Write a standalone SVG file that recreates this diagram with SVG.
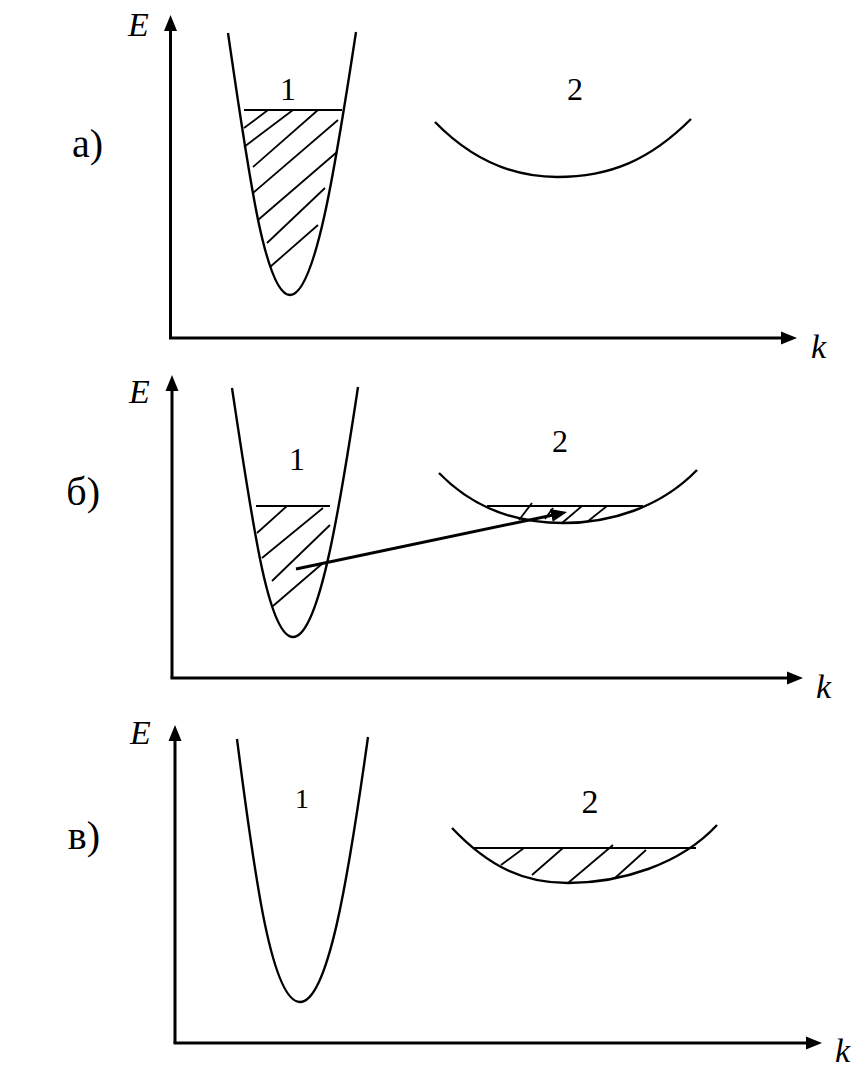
<svg xmlns="http://www.w3.org/2000/svg" width="864" height="1067" viewBox="0 0 864 1067">
<defs>
<marker id="ah" markerUnits="userSpaceOnUse" markerWidth="17" markerHeight="14" refX="8" refY="7" orient="auto">
<path d="M0,0.5 L16,7 L0,13.5 Z" fill="#000"/>
</marker>
<style>
.ax{stroke:#000;stroke-width:3;fill:none;marker-end:url(#ah)}
.cv{stroke:#000;stroke-width:2.4;fill:none}
.fl{stroke:#000;stroke-width:2.2}
.ht{stroke:#000;stroke-width:1.8}
.ar{stroke:#000;stroke-width:3;marker-end:url(#ah)}
.lbl{font-family:"Liberation Serif","Times New Roman",serif;font-size:40px;fill:#000;text-anchor:end}
.var{font-family:"Liberation Serif","Times New Roman",serif;font-style:italic;font-size:34px;fill:#000}
.kv{font-family:"Liberation Serif","Times New Roman",serif;font-style:italic;font-size:34px;fill:#000}
.n1{font-family:"Liberation Serif","Times New Roman",serif;font-size:32px;fill:#000;text-anchor:middle}
.n2{font-family:"Liberation Serif","Times New Roman",serif;font-size:32px;fill:#000;text-anchor:middle}
</style>
</defs>
<rect width="864" height="1067" fill="#fff"/>

<!-- Panel a -->
<g id="panel-a">
<text class="lbl" x="103" y="157">а)</text>
<g id="axes-a">
<line class="ax" x1="170.5" y1="338" x2="170.5" y2="23"/>
<line class="ax" x1="169" y1="338" x2="789" y2="338"/>
<text class="var" x="128" y="36">E</text>
<text class="kv" x="811" y="358">k</text>
</g>
<g id="band1-a">
<path class="cv" d="M228,33 C248,170 265,295 290,295 C315,295 335,170 356,32"/>
<line class="fl" x1="244" y1="110" x2="342" y2="110"/>
<line class="ht" x1="244" y1="128" x2="268" y2="110"/>
<line class="ht" x1="244" y1="147" x2="293" y2="110"/>
<line class="ht" x1="253" y1="167" x2="318" y2="110"/>
<line class="ht" x1="253" y1="193" x2="338" y2="120"/>
<line class="ht" x1="258" y1="220" x2="337" y2="152"/>
<line class="ht" x1="267" y1="243" x2="325" y2="188"/>
<line class="ht" x1="270" y1="267" x2="318" y2="225"/>
<text class="n1" x="288" y="100">1</text>
</g>
<g id="band2-a">
<path class="cv" d="M435,122 C470,158 510,177 557,177 C610,177 650,160 691,119"/>
<text class="n2" x="575" y="100">2</text>
</g>
</g>

<!-- Panel b -->
<g id="panel-b">
<text class="lbl" x="100" y="505">б)</text>
<g id="axes-b">
<line class="ax" x1="172" y1="678" x2="172" y2="383"/>
<line class="ax" x1="170.5" y1="678" x2="795" y2="678"/>
<text class="var" x="129" y="403">E</text>
<text class="kv" x="816" y="698">k</text>
</g>
<g id="band1-b">
<path class="cv" d="M232,388 C252,520 268,637 293,637 C318,637 338,520 358,387"/>
<line class="fl" x1="256" y1="506" x2="330" y2="506"/>
<line class="ht" x1="257" y1="533" x2="287" y2="506"/>
<line class="ht" x1="262" y1="558" x2="323" y2="508"/>
<line class="ht" x1="272" y1="581" x2="330" y2="525"/>
<line class="ht" x1="273" y1="606" x2="323" y2="563"/>
<text class="n1" x="297" y="470">1</text>
</g>
<g id="band2-b">
<path class="cv" d="M439,473 C475,510 520,523 563,523 C610,523 660,508 697,470"/>
<line class="fl" x1="487" y1="506" x2="643" y2="506"/>
<line class="ht" x1="519" y1="520" x2="532" y2="503"/>
<line class="ht" x1="545" y1="519" x2="553" y2="508"/>
<line class="ht" x1="562" y1="523" x2="582" y2="506"/>
<line class="ht" x1="587" y1="522" x2="607" y2="506"/>
<text class="n2" x="560" y="452">2</text>
</g>
</g>

<!-- Panel v -->
<g id="panel-v">
<text class="lbl" x="100" y="849">в)</text>
<g id="axes-v">
<line class="ax" x1="175" y1="1043" x2="175" y2="733"/>
<line class="ax" x1="173.5" y1="1043" x2="814" y2="1043"/>
<text class="var" x="130" y="744">E</text>
<text class="kv" x="835" y="1062">k</text>
</g>
<g id="band1-v">
<path class="cv" d="M237,739 C255,880 272,1002 300,1002 C328,1002 348,880 368,737"/>
<text class="n1" x="302" y="808" style="font-size:28px">1</text>
</g>
<g id="band2-v">
<path class="cv" d="M452,828 C490,868 525,883 568,883 C620,883 680,865 717,825"/>
<line class="fl" x1="473" y1="848" x2="696" y2="848"/>
<line class="ht" x1="501" y1="865" x2="524" y2="848"/>
<line class="ht" x1="532" y1="875" x2="563" y2="848"/>
<line class="ht" x1="568" y1="883" x2="613" y2="845"/>
<line class="ht" x1="615" y1="878" x2="646" y2="850"/>
<text class="n2" x="590" y="813" style="font-size:34px">2</text>
</g>
</g>

<!-- Connectors -->
<g id="connectors">
<line class="ar" x1="296" y1="569" x2="559.2" y2="513.7"/>
</g>
</svg>
